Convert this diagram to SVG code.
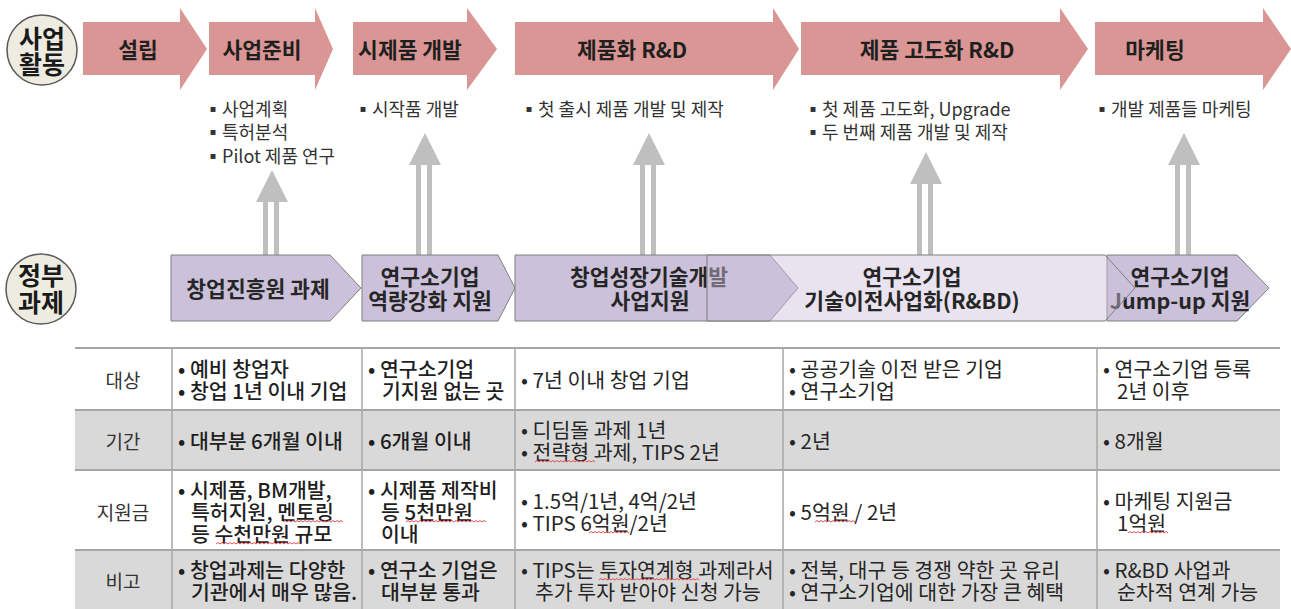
<svg xmlns="http://www.w3.org/2000/svg" width="1291" height="609" viewBox="0 0 1291 609">
<defs>
<style>
text,tspan{font-family:"Noto Sans CJK KR","Noto Sans",sans-serif;dominant-baseline:central}
text{fill:#262626}
.circ{fill:#EEECE1;stroke:#595959;stroke-width:1.5}
.ctl{font-size:25px;font-weight:bold;text-anchor:middle;fill:#1a1a1a}
.pink{fill:#DA9694}
.ptx{font-size:21.5px;font-weight:bold;text-anchor:middle;fill:#1f1f1f}
.bul{font-size:18px;fill:#333}
.up{fill:#BFBFBF}
.chev{fill:#CCC1DA;stroke:#7F7F7F;stroke-width:1}
.chevl{fill:#CCC1DA;fill-opacity:0.45;stroke:#7F7F7F;stroke-width:1}
.gtx{font-size:21.5px;font-weight:bold;text-anchor:middle;fill:#262626}
.gray{fill:#D9D9D9}
.hl{stroke:#A6A6A6;stroke-width:2}
.vl{stroke:#A6A6A6;stroke-width:1.5}
.lab{font-size:19px;text-anchor:middle;fill:#333}
.cell{font-size:20.5px;fill:#262626}
.c12{font-weight:500;fill:#1f1f1f}
.sq{fill:none;stroke:#E05050;stroke-width:1}
</style>
</defs>

<g id="circle-business">
<circle class="circ" cx="42" cy="50" r="35"/>
<text class="ctl" x="42" y="37">사업<tspan x="42" dy="26">활동</tspan></text>
</g>
<g id="circle-gov">
<circle class="circ" cx="41" cy="289" r="35"/>
<text class="ctl" x="41" y="274">정부<tspan x="41" dy="27">과제</tspan></text>
</g>

<g id="stage-1">
<path class="pink" d="M83,22 H180 V8 L207,49 L180,90 V75 H83 Z"/>
<text class="ptx" x="138" y="48">설립</text>
</g>
<g id="stage-2">
<path class="pink" d="M209,22 H315 V8 L333,49 L315,90 V75 H209 Z"/>
<text class="ptx" x="262" y="48">사업준비</text>
<text class="bul" x="204" y="108">▪사업계획<tspan x="204" dy="23">▪특허분석</tspan><tspan x="204" dy="24">▪Pilot 제품 연구</tspan></text>
</g>
<g id="stage-3">
<path class="pink" d="M353,22 H467 V8 L497,49 L467,90 V75 H353 Z"/>
<text class="ptx" x="410" y="48">시제품 개발</text>
<text class="bul" x="354" y="108">▪시작품 개발</text>
</g>
<g id="stage-4">
<path class="pink" d="M515,22 H773 V8 L799,49 L773,90 V75 H515 Z"/>
<text class="ptx" x="632" y="48">제품화 R&amp;D</text>
<text class="bul" x="520" y="108">▪첫 출시 제품 개발 및 제작</text>
</g>
<g id="stage-5">
<path class="pink" d="M801,22 H1060 V8 L1088,49 L1060,90 V75 H801 Z"/>
<text class="ptx" x="937" y="48">제품 고도화 R&amp;D</text>
<text class="bul" x="804" y="108">▪첫 제품 고도화, Upgrade<tspan x="804" dy="23">▪두 번째 제품 개발 및 제작</tspan></text>
</g>
<g id="stage-6">
<path class="pink" d="M1095,22 H1263 V8 L1291,49 L1263,90 V75 H1095 Z"/>
<text class="ptx" x="1155" y="48">마케팅</text>
<text class="bul" x="1093" y="108">▪개발 제품들 마케팅</text>
</g>

<g id="connectors">
<rect class="up" x="263" y="201" width="5" height="54"/>
<rect class="up" x="274" y="201" width="5" height="54"/>
<path class="up" d="M272,170 L288,202 L256,202 Z"/>
<rect class="up" x="416" y="164" width="5" height="91"/>
<rect class="up" x="427" y="164" width="5" height="91"/>
<path class="up" d="M425,133 L441,165 L409,165 Z"/>
<rect class="up" x="640" y="164" width="5" height="91"/>
<rect class="up" x="651" y="164" width="5" height="91"/>
<path class="up" d="M649,133 L665,165 L633,165 Z"/>
<rect class="up" x="917" y="182" width="5" height="73"/>
<rect class="up" x="928" y="182" width="5" height="73"/>
<path class="up" d="M926,152 L942,184 L910,184 Z"/>
<rect class="up" x="1175" y="164" width="5" height="91"/>
<rect class="up" x="1186" y="164" width="5" height="91"/>
<path class="up" d="M1184,133 L1200,165 L1168,165 Z"/>
</g>

<g id="gov-1">
<path class="chev" d="M171,255 H330 L361,288 L330,321 H171 Z"/>
<text class="gtx" x="258" y="287">창업진흥원 과제</text>
</g>
<g id="gov-2">
<path class="chev" d="M362,255 H498 L515,288 L498,321 H362 Z"/>
<text class="gtx" x="430" y="275">연구소기업<tspan x="430" dy="24">역량강화 지원</tspan></text>
</g>
<g id="gov-3">
<path class="chev" d="M515,255 H770 L798,288 L770,321 H515 Z"/>
<text class="gtx" x="649" y="275">창업성장기술개발<tspan x="650" dy="24">사업지원</tspan></text>
</g>
<g id="gov-5">
<path class="chev" d="M1107,255 H1237 L1269,288 L1237,321 H1107 Z"/>
<text class="gtx" x="1180" y="275">연구소기업<tspan x="1180" dy="24">Jump-up 지원</tspan></text>
</g>
<g id="gov-4">
<path class="chevl" d="M707,255 H1105 L1135,288 L1105,321 H707 Z"/>
<text class="gtx" x="912" y="275">연구소기업<tspan x="912" dy="24">기술이전사업화(R&amp;BD)</tspan></text>
</g>

<g id="table">
<rect class="gray" x="75" y="410" width="1205" height="60"/>
<rect class="gray" x="75" y="550" width="1205" height="59"/>
<line class="hl" x1="75" y1="348" x2="1280" y2="348"/>
<line class="hl" x1="75" y1="410" x2="1280" y2="410"/>
<line class="hl" x1="75" y1="470" x2="1280" y2="470"/>
<line class="hl" x1="75" y1="550" x2="1280" y2="550"/>
<line class="vl" x1="172" y1="348" x2="172" y2="609"/>
<line class="vl" x1="362" y1="348" x2="362" y2="609"/>
<line class="vl" x1="515" y1="348" x2="515" y2="609"/>
<line class="vl" x1="783" y1="348" x2="783" y2="609"/>
<line class="vl" x1="1097" y1="348" x2="1097" y2="609"/>

<text class="lab" x="123" y="379">대상</text>
<text class="lab" x="123" y="440">기간</text>
<text class="lab" x="123" y="511">지원금</text>
<text class="lab" x="123" y="580">비고</text>

<text class="cell c12" x="178" y="368">• 예비 창업자<tspan x="178" dy="22">• 창업 1년 이내 기업</tspan></text>
<text class="cell c12" x="368" y="368">• 연구소기업<tspan x="382" dy="22">기지원 없는 곳</tspan></text>
<text class="cell" x="521" y="379">• 7년 이내 창업 기업</text>
<text class="cell" x="789" y="368">• 공공기술 이전 받은 기업<tspan x="789" dy="22">• 연구소기업</tspan></text>
<text class="cell" x="1103" y="368">• 연구소기업 등록<tspan x="1117" dy="22">2년 이후</tspan></text>

<text class="cell c12" x="178" y="440">• 대부분 6개월 이내</text>
<text class="cell c12" x="368" y="440">• 6개월 이내</text>
<text class="cell" x="521" y="429">• 디딤돌 과제 1년<tspan x="521" dy="22">• 전략형 과제, TIPS 2년</tspan></text>
<text class="cell" x="789" y="440">• 2년</text>
<text class="cell" x="1103" y="440">• 8개월</text>

<text class="cell c12" x="178" y="489">• 시제품, BM개발,<tspan x="191" dy="22">특허지원, 멘토링</tspan><tspan x="191" dy="22">등 수천만원 규모</tspan></text>
<text class="cell c12" x="368" y="489">• 시제품 제작비<tspan x="381" dy="22">등 5천만원</tspan><tspan x="381" dy="22">이내</tspan></text>
<text class="cell" x="521" y="500">• 1.5억/1년, 4억/2년<tspan x="521" dy="22">• TIPS 6억원/2년</tspan></text>
<text class="cell" x="789" y="511">• 5억원 / 2년</text>
<text class="cell" x="1103" y="500">• 마케팅 지원금<tspan x="1117" dy="22">1억원</tspan></text>

<text class="cell c12" x="178" y="569">• 창업과제는 다양한<tspan x="191" dy="22">기관에서 매우 많음.</tspan></text>
<text class="cell c12" x="368" y="569">• 연구소 기업은<tspan x="381" dy="22">대부분 통과</tspan></text>
<text class="cell" x="521" y="569">• TIPS는 투자연계형 과제라서<tspan x="535" dy="22">추가 투자 받아야 신청 가능</tspan></text>
<text class="cell" x="789" y="569">• 전북, 대구 등 경쟁 약한 곳 유리<tspan x="789" dy="22">• 연구소기업에 대한 가장 큰 혜택</tspan></text>
<text class="cell" x="1103" y="569">• R&amp;BD 사업과<tspan x="1117" dy="22">순차적 연계 가능</tspan></text>

<g id="spellmarks">
<path class="sq" d="M535,462 l2,-1.5 l2,1.5 l2,-1.5 l2,1.5 l2,-1.5 l2,1.5 l2,-1.5 l2,1.5 l2,-1.5 l2,1.5 l2,-1.5 l2,1.5 l2,-1.5 l2,1.5 l2,-1.5 l2,1.5 l2,-1.5 l2,1.5 l2,-1.5 l2,1.5 l2,-1.5 l2,1.5 l2,-1.5 l2,1.5 l2,-1.5 l2,1.5 l2,-1.5 l2,1.5 l2,-1.5 l2,1.5"/>
<path class="sq" d="M283,522 l2,-1.5 l2,1.5 l2,-1.5 l2,1.5 l2,-1.5 l2,1.5 l2,-1.5 l2,1.5 l2,-1.5 l2,1.5 l2,-1.5 l2,1.5 l2,-1.5 l2,1.5 l2,-1.5 l2,1.5 l2,-1.5 l2,1.5 l2,-1.5 l2,1.5 l2,-1.5 l2,1.5 l2,-1.5 l2,1.5 l2,-1.5 l2,1.5 l2,-1.5 l2,1.5 l2,-1.5 l2,1.5"/>
<path class="sq" d="M216,544 l2,-1.5 l2,1.5 l2,-1.5 l2,1.5 l2,-1.5 l2,1.5 l2,-1.5 l2,1.5 l2,-1.5 l2,1.5 l2,-1.5 l2,1.5 l2,-1.5 l2,1.5 l2,-1.5 l2,1.5 l2,-1.5 l2,1.5 l2,-1.5 l2,1.5 l2,-1.5 l2,1.5 l2,-1.5 l2,1.5 l2,-1.5 l2,1.5 l2,-1.5 l2,1.5 l2,-1.5 l2,1.5 l2,-1.5 l2,1.5 l2,-1.5 l2,1.5 l2,-1.5 l2,1.5 l2,-1.5 l2,1.5 l2,-1.5 l2,1.5 l2,-1.5 l2,1.5"/>
<path class="sq" d="M406,522 l2,-1.5 l2,1.5 l2,-1.5 l2,1.5 l2,-1.5 l2,1.5 l2,-1.5 l2,1.5 l2,-1.5 l2,1.5 l2,-1.5 l2,1.5 l2,-1.5 l2,1.5 l2,-1.5 l2,1.5 l2,-1.5 l2,1.5 l2,-1.5 l2,1.5 l2,-1.5 l2,1.5 l2,-1.5 l2,1.5 l2,-1.5 l2,1.5 l2,-1.5 l2,1.5 l2,-1.5 l2,1.5 l2,-1.5 l2,1.5 l2,-1.5 l2,1.5 l2,-1.5 l2,1.5 l2,-1.5 l2,1.5 l2,-1.5 l2,1.5"/>
<path class="sq" d="M589,533 l2,-1.5 l2,1.5 l2,-1.5 l2,1.5 l2,-1.5 l2,1.5 l2,-1.5 l2,1.5 l2,-1.5 l2,1.5 l2,-1.5 l2,1.5 l2,-1.5 l2,1.5 l2,-1.5 l2,1.5 l2,-1.5 l2,1.5 l2,-1.5 l2,1.5"/>
<path class="sq" d="M815,522 l2,-1.5 l2,1.5 l2,-1.5 l2,1.5 l2,-1.5 l2,1.5 l2,-1.5 l2,1.5 l2,-1.5 l2,1.5 l2,-1.5 l2,1.5 l2,-1.5 l2,1.5 l2,-1.5 l2,1.5 l2,-1.5 l2,1.5 l2,-1.5 l2,1.5"/>
<path class="sq" d="M1128,533 l2,-1.5 l2,1.5 l2,-1.5 l2,1.5 l2,-1.5 l2,1.5 l2,-1.5 l2,1.5 l2,-1.5 l2,1.5 l2,-1.5 l2,1.5 l2,-1.5 l2,1.5 l2,-1.5 l2,1.5 l2,-1.5 l2,1.5 l2,-1.5 l2,1.5"/>
<path class="sq" d="M599,580 l2,-1.5 l2,1.5 l2,-1.5 l2,1.5 l2,-1.5 l2,1.5 l2,-1.5 l2,1.5 l2,-1.5 l2,1.5 l2,-1.5 l2,1.5 l2,-1.5 l2,1.5 l2,-1.5 l2,1.5 l2,-1.5 l2,1.5 l2,-1.5 l2,1.5 l2,-1.5 l2,1.5 l2,-1.5 l2,1.5 l2,-1.5 l2,1.5 l2,-1.5 l2,1.5 l2,-1.5 l2,1.5 l2,-1.5 l2,1.5 l2,-1.5 l2,1.5 l2,-1.5 l2,1.5 l2,-1.5 l2,1.5 l2,-1.5 l2,1.5 l2,-1.5 l2,1.5 l2,-1.5 l2,1.5 l2,-1.5 l2,1.5 l2,-1.5 l2,1.5 l2,-1.5 l2,1.5"/>
</g>
</g>
</svg>
